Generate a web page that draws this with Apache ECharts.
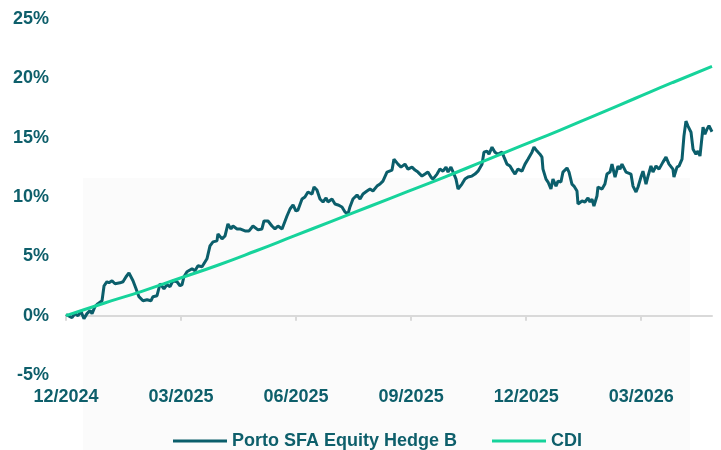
<!DOCTYPE html>
<html>
<head>
<meta charset="utf-8">
<script src="https://cdn.jsdelivr.net/npm/echarts@6/dist/echarts.min.js"></script>
<style>
  html, body { margin: 0; padding: 0; background: #fff; }
  #chart { width: 721px; height: 450px; }
</style>
</head>
<body>
<div id="chart"></div>
<script>
// x = days since start of the series, y = accumulated return (%)
var quarterLabels = ['12/2024', '03/2025', '06/2025', '09/2025', '12/2025', '03/2026'];
var quarterStep = 91;
var lastDay = 511;

var fundName = 'Porto SFA Equity Hedge B';
var cdiName = 'CDI';

var fund = [
    [0, 0.1], [4.7, -0.17], [7.1, 0.17], [9.5, 0], [11.9, 0.34], [14.2, -0.25], [16.6, 0.17], [19.0, 0.42],
    [20.6, 0.17], [22.9, 0.76], [25.3, 1.01], [28.5, 1.26], [30.1, 2.52], [32.4, 2.86], [34.0, 2.77], [36.4, 2.94],
    [38.8, 2.69], [42.7, 2.77], [45.1, 2.86], [47.5, 3.28], [49.8, 3.61], [53.0, 2.94], [55.4, 2.27], [57.7, 1.60],
    [60.9, 1.26], [64.1, 1.34], [67.2, 1.26], [68.8, 1.60], [72.0, 1.68], [74.4, 2.69], [77.5, 2.27], [79.9, 2.61],
    [82.3, 2.44], [84.6, 2.94], [87.8, 2.86], [90.2, 2.52], [91.8, 2.61], [93.3, 3.28], [95.7, 3.70], [99.7, 3.95],
    [102.0, 3.78], [104.4, 4.20], [107.6, 4.12], [111.5, 4.79], [113.9, 5.88], [116.3, 6.22], [119.4, 6.30], [120.2, 6.89],
    [123.4, 6.47], [125.8, 6.72], [128.1, 7.73], [130.5, 7.31], [132.1, 7.56], [135.3, 7.31], [137.6, 7.31], [141.6, 7.14],
    [144.8, 7.14], [147.9, 7.56], [151.9, 7.23], [155.0, 7.31], [156.6, 7.98], [159.8, 7.98], [162.9, 7.56], [165.3, 7.31],
    [167.7, 7.56], [170.9, 7.31], [172.4, 7.31], [174.8, 8.40], [177.2, 8.99], [179.6, 9.33], [181.9, 8.82], [183.5, 8.90],
    [186.7, 9.83], [189.0, 10.0], [191.4, 10.42], [194.6, 10.25], [196.2, 10.84], [198.5, 10.59], [200.9, 9.83], [203.3, 9.58],
    [205.7, 9.92], [207.2, 9.58], [210.4, 9.83], [212.8, 9.41], [215.2, 9.33], [218.3, 9.16], [220.7, 8.74], [223.1, 8.57],
    [224.6, 9.16], [227.0, 9.83], [230.2, 10.17], [232.6, 9.83], [234.9, 10.25], [238.1, 10.50], [240.5, 10.67], [242.8, 10.50],
    [246.0, 10.92], [248.4, 11.09], [250.7, 11.34], [253.9, 12.10], [257.9, 12.27], [259.4, 13.19], [262.6, 12.77], [265.0, 12.52],
    [268.1, 12.77], [270.5, 12.35], [273.7, 12.52], [276.1, 12.27], [278.4, 12.10], [281.6, 11.76], [284.0, 11.93], [286.3, 12.10],
    [288.7, 11.68], [290.3, 11.51], [293.5, 11.93], [295.8, 12.35], [298.2, 12.18], [300.6, 12.52], [302.2, 12.10], [304.5, 12.52],
    [306.9, 11.93], [308.5, 11.51], [310.1, 10.67], [313.2, 11.09], [315.6, 11.51], [318.0, 11.68], [321.1, 11.76], [323.5, 11.93],
    [325.9, 12.18], [329.1, 12.77], [330.6, 13.78], [333.0, 13.87], [334.6, 13.61], [337.0, 14.20], [339.3, 13.78], [341.7, 13.61],
    [344.9, 13.78], [346.5, 13.36], [348.8, 12.77], [351.2, 12.61], [353.6, 12.18], [355.2, 11.93], [357.5, 12.35], [360.7, 12.18],
    [363.1, 12.77], [365.4, 13.19], [368.6, 13.78], [370.2, 14.20], [372.6, 13.87], [374.9, 13.61], [376.5, 13.36], [377.3, 12.35],
    [379.7, 11.51], [381.3, 11.26], [383.6, 10.67], [385.2, 11.51], [387.6, 10.92], [389.2, 11.34], [391.5, 11.26], [393.1, 12.10],
    [396.3, 12.44], [397.9, 12.10], [400.2, 11.09], [401.8, 10.92], [404.2, 10.50], [405.0, 9.41], [408.2, 9.66], [410.5, 9.58],
    [412.9, 9.92], [414.5, 9.58], [416.1, 9.83], [417.6, 9.24], [420.0, 10.08], [420.8, 10.84], [424.0, 10.67], [426.3, 11.09],
    [427.9, 11.93], [430.3, 12.10], [431.9, 12.77], [434.3, 11.68], [436.6, 12.61], [438.2, 12.35], [439.8, 12.77], [443.0, 12.10],
    [444.5, 12.18], [446.9, 11.93], [448.5, 10.92], [450.9, 10.42], [452.5, 10.84], [454.8, 11.68], [456.4, 12.18], [458.8, 11.09],
    [460.4, 11.76], [462.7, 12.61], [464.3, 12.10], [466.7, 12.61], [469.1, 12.35], [472.2, 12.94], [474.6, 13.36], [477.0, 12.77],
    [480.1, 12.35], [480.9, 11.68], [483.3, 12.52], [484.9, 12.61], [487.3, 13.19], [488.8, 15.13], [490.4, 16.39], [492.0, 15.97],
    [494.4, 15.46], [496.0, 14.03], [498.3, 13.61], [499.9, 13.87], [501.5, 13.45], [503.9, 15.88], [505.4, 15.29], [507.0, 15.71],
    [508.6, 16.0], [511.0, 15.5]
];

var cdi = [
    [0, 0], [30, 1.05], [60, 2.05], [90, 3.15], [120, 4.25], [150, 5.45], [180, 6.7], [210, 7.95], [240, 9.2],
    [270, 10.45], [300, 11.7], [330, 13.0], [360, 14.3], [390, 15.6], [420, 16.95], [450, 18.3], [480, 19.65], [511, 21.0]
];

var textColor = '#0e5f6b';
var fundColor = '#0b5e6b';
var cdiColor = '#16d39b';

var chart = echarts.init(document.getElementById('chart'), null, { renderer: 'canvas' });

var option = {
    animation: false,
    backgroundColor: '#ffffff',
    textStyle: { fontFamily: 'Liberation Sans, Arial, sans-serif' },
    graphic: [{
        type: 'rect',
        z: -10,
        silent: true,
        shape: { x: 83, y: 178, width: 607, height: 272 },
        style: { fill: '#fbfbfb' }
    }],
    grid: { left: 66, right: 9, top: 19, bottom: 75, outerBoundsMode: 'none', containLabel: false },
    legend: {
        left: 168,
        top: 427,
        icon: 'rect',
        itemWidth: 54,
        itemHeight: 3,
        itemGap: 35,
        textStyle: { color: textColor, fontSize: 18, fontWeight: 'bold' },
        data: [fundName, cdiName]
    },
    xAxis: {
        type: 'value',
        min: 0,
        max: lastDay,
        interval: quarterStep,
        splitLine: { show: false },
        axisLine: { onZero: true, lineStyle: { color: '#d9d9d9', width: 2 } },
        axisTick: { show: true, length: 5, lineStyle: { color: '#d9d9d9', width: 2 } },
        axisLabel: {
            margin: 13,
            color: textColor,
            fontSize: 18,
            fontWeight: 'bold',
            showMaxLabel: false,
            formatter: function (v) {
                var i = Math.round(v / quarterStep);
                return (i * quarterStep === v && quarterLabels[i]) ? quarterLabels[i] : '';
            }
        }
    },
    yAxis: {
        type: 'value',
        min: -5,
        max: 25,
        interval: 5,
        splitLine: { show: false },
        axisLine: { show: false },
        axisTick: { show: false },
        axisLabel: {
            margin: 17,
            color: textColor,
            fontSize: 18,
            fontWeight: 'bold',
            formatter: '{value}%'
        }
    },
    series: [{
        name: fundName,
        type: 'line',
        data: fund,
        showSymbol: false,
        symbol: 'none',
        lineStyle: { color: fundColor, width: 3 },
        itemStyle: { color: fundColor }
    }, {
        name: cdiName,
        type: 'line',
        data: cdi,
        showSymbol: false,
        symbol: 'none',
        smooth: true,
        lineStyle: { color: cdiColor, width: 3 },
        itemStyle: { color: cdiColor }
    }]
};

chart.setOption(option);
</script>
</body>
</html>
